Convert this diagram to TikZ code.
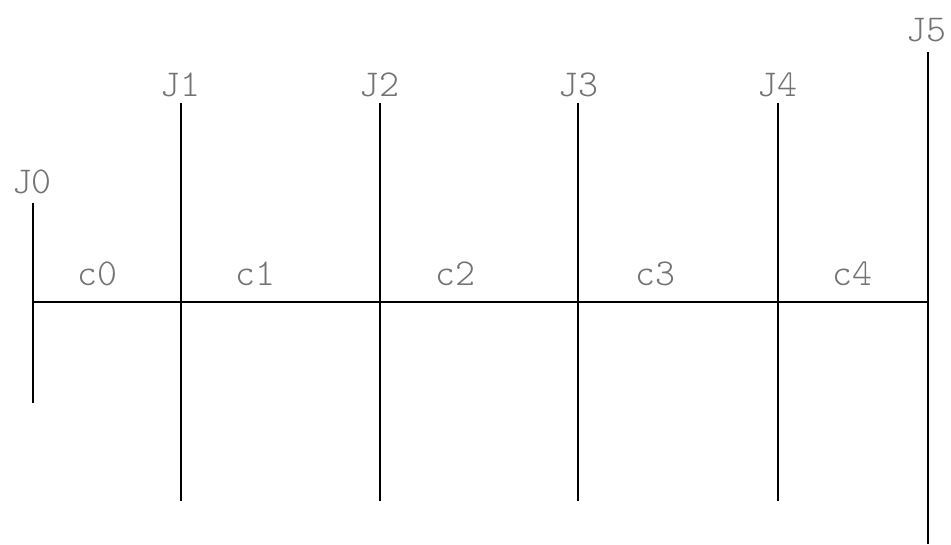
\documentclass[tikz,border=0pt]{standalone}
\usepackage{fontspec}
\begin{document}
\begin{tikzpicture}[x=1pt,y=-1pt,
  lbl/.style={text=black!55,font=\fontsize{38}{38}\ttfamily\fontseries{l}\selectfont,inner sep=0pt},
  wire/.style={line width=1.6pt,black}]
\useasboundingbox (0,0) rectangle (951,544);
% junction tops / bottoms
\coordinate (t0) at (33,203); \coordinate (b0) at (33,403);
\coordinate (t1) at (181,103); \coordinate (b1) at (181,501);
\coordinate (t2) at (380,103); \coordinate (b2) at (380,501);
\coordinate (t3) at (578,103); \coordinate (b3) at (578,501);
\coordinate (t4) at (778,103); \coordinate (b4) at (778,501);
\coordinate (t5) at (928,52); \coordinate (b5) at (928,544);
\coordinate (hL) at (33,302); \coordinate (hR) at (928,302);
\draw[wire] (hL) -- (hR);
\foreach \i in {0,...,5} {\draw[wire] (t\i) -- (b\i);}
% labels
\node[lbl] (J0) at (32,182) {J0};
\node[lbl] (J1) at (180,85) {J1};
\node[lbl] (J2) at (379,85) {J2};
\node[lbl] (J3) at (578,85) {J3};
\node[lbl] (J4) at (777,85) {J4};
\node[lbl] (J5) at (926,30) {J5};
\node[lbl] (c0) at (97,274) {c0};
\node[lbl] (c1) at (255,274) {c1};
\node[lbl] (c2) at (455,274) {c2};
\node[lbl] (c3) at (655,274) {c3};
\node[lbl] (c4) at (852,274) {c4};
\end{tikzpicture}
\end{document}
